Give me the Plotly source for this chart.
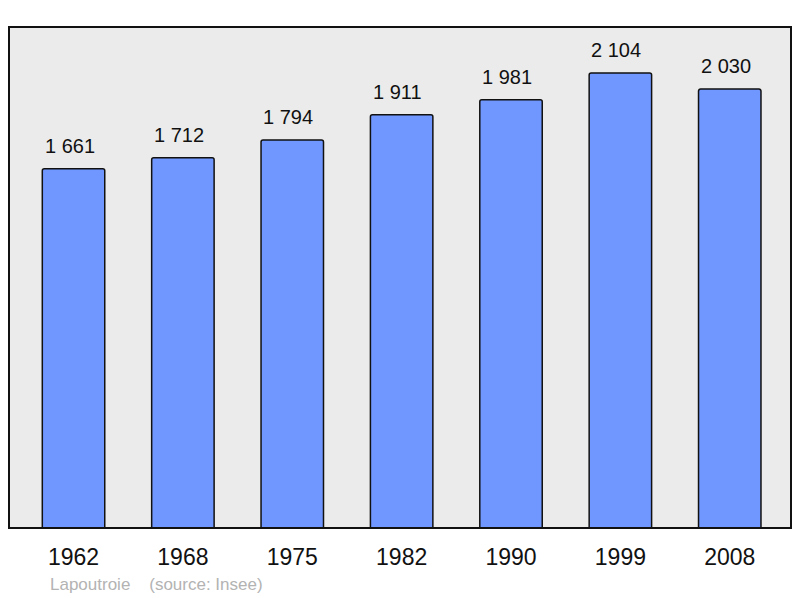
import plotly.graph_objects as go

years = ["1962", "1968", "1975", "1982", "1990", "1999", "2008"]
population = [1661, 1712, 1794, 1911, 1981, 2104, 2030]
source_text = "Lapoutroie    (source: Insee)"

xpos = list(range(len(years)))
labels = [f"{v:,}".replace(",", " ") for v in population]

FONT = "Liberation Sans, Arial, sans-serif"

fig = go.Figure()
fig.add_trace(go.Bar(
    x=xpos, y=population, width=0.571,
    marker=dict(color="#7097ff", line=dict(color="#111111", width=1.5), cornerradius=2),
    hoverinfo="skip",
))

for x, v, t in zip(xpos, population, labels):
    fig.add_annotation(x=x, y=v, text=t, showarrow=False, xref="x", yref="y",
                       yanchor="bottom", yshift=10, xshift=-4,
                       font=dict(family=FONT, size=20, color="#111111"))

fig.add_annotation(x=(48 - 9) / 782, y=-0.112, xref="paper", yref="paper",
                   text=source_text.replace("    ", "&nbsp;&nbsp;&nbsp;&nbsp;"), showarrow=False,
                   xanchor="left", yanchor="middle",
                   font=dict(family=FONT, size=17, color="#b3b3b3"))

fig.add_shape(type="rect", xref="paper", yref="paper", x0=0, y0=0, x1=1, y1=1,
              line=dict(color="#111111", width=2), layer="above")

# page body has an 8px margin; compensate so the plot lands where the reference has it
fig.update_layout(
    width=792, height=590,
    margin=dict(l=1, r=9, t=19, b=70),
    paper_bgcolor="white", plot_bgcolor="#ebebeb",
    showlegend=False,
    font=dict(family=FONT, color="#111111"),
    xaxis=dict(range=[-0.59, 6.56], tickvals=xpos, ticktext=years, showgrid=False,
               zeroline=False, ticks="outside", ticklen=8, tickcolor="rgba(0,0,0,0)",
               tickfont=dict(size=23, color="#111111"), fixedrange=True),
    yaxis=dict(range=[0, 2317], showgrid=False, zeroline=False, showticklabels=False,
               fixedrange=True),
)

fig.write_html("out.html")
